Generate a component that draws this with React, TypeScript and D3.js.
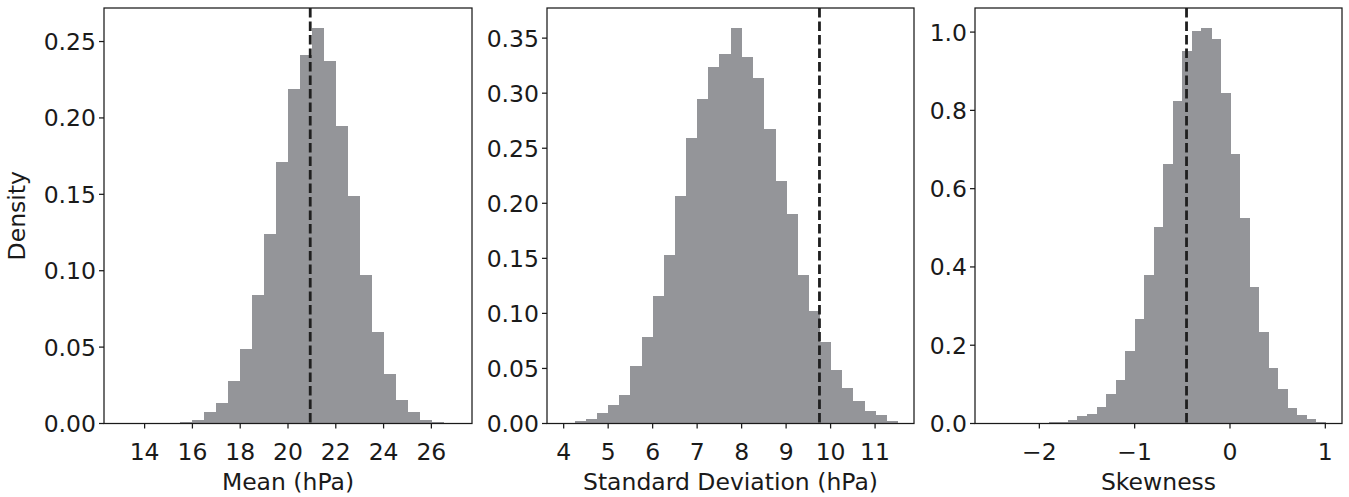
import React from "react";
import * as d3 from "d3";

// ---- Data ----
const meanBinStart = 13;
const meanBinWidth = 0.5;
const meanDensity = [0.0001, 0.0001, 0.0002, 0.0003, 0.0005, 0.001, 0.002, 0.0074, 0.0133, 0.028, 0.0487, 0.0841, 0.124, 0.171, 0.219, 0.241, 0.259, 0.237, 0.195, 0.149, 0.0972, 0.0598, 0.0323, 0.0153, 0.0074, 0.0022, 0.0009, 0.0002];
const meanRef = 20.93;
const meanXTicks = [14, 16, 18, 20, 22, 24, 26];
const meanYTicks = [0, 0.05, 0.1, 0.15, 0.2, 0.25];

const sdBinStart = 4.0;
const sdBinWidth = 0.25;
const sdDensity = [0.0003, 0.002, 0.0039, 0.0094, 0.0167, 0.0258, 0.0521, 0.0785, 0.1158, 0.153, 0.2067, 0.2597, 0.2948, 0.3239, 0.3358, 0.3594, 0.333, 0.3139, 0.2676, 0.2203, 0.1903, 0.1348, 0.1021, 0.0739, 0.0485, 0.0321, 0.0203, 0.0112, 0.0075, 0.0021];
const sdRef = 9.75;
const sdXTicks = [4, 5, 6, 7, 8, 9, 10, 11];
const sdYTicks = [0, 0.05, 0.1, 0.15, 0.2, 0.25, 0.3, 0.35];

const skBinStart = -2.5;
const skBinWidth = 0.1;
const skDensity = [0.0003, 0.0003, 0.0005, 0.0008, 0.001, 0.0015, 0.003, 0.003, 0.0102, 0.0187, 0.0238, 0.0417, 0.0749, 0.1107, 0.1849, 0.2667, 0.3793, 0.502, 0.663, 0.824, 0.952, 1.003, 1.011, 0.983, 0.845, 0.689, 0.525, 0.349, 0.2335, 0.1414, 0.0877, 0.0391, 0.0212, 0.011, 0.005];
const skRef = -0.456;
const skXTicks = [-2, -1, 0, 1];
const skYTicks = [0, 0.2, 0.4, 0.6, 0.8, 1.0];

const FONT = "DejaVu Sans, sans-serif";
const FS = 23.5;
const BAR = "#949599";
const AX = "#1a1a1a";

type PanelProps = {
  left: number; right: number; top: number; bottom: number;
  binStart: number; binWidth: number; density: number[]; ref0: number;
  xTicks: number[]; yTicks: number[]; yFmt: (v: number) => string;
  xLabel: string; yLabel?: string;
};

function Panel(p: PanelProps) {
  const n = p.density.length;
  const lo = p.binStart;
  const hi = p.binStart + n * p.binWidth;
  const pad = (hi - lo) * 0.05;
  const x = d3.scaleLinear().domain([lo - pad, hi + pad]).range([p.left, p.right]);
  const ymax = (d3.max(p.density) as number) * 1.05;
  const y = d3.scaleLinear().domain([0, ymax]).range([p.bottom, p.top]);
  const bins = p.density.map((v, i) => ({ x0: lo + i * p.binWidth, x1: lo + (i + 1) * p.binWidth, v }));
  const xFmt = (v: number) => (v < 0 ? "\u2212" + Math.abs(v) : String(v));
  return (
    <g>
      <g shapeRendering="crispEdges">
        {bins.map((b, i) => (
          <rect key={i} x={x(b.x0)} width={Math.max(0, x(b.x1) - x(b.x0)) + 0.6} y={y(b.v)} height={p.bottom - y(b.v)} fill={BAR} />
        ))}
      </g>
      <line x1={x(p.ref0)} x2={x(p.ref0)} y1={p.top} y2={p.bottom} stroke="#1f1f1f" strokeWidth={2.8} strokeDasharray="9.5,4" />
      <rect x={p.left} y={p.top} width={p.right - p.left} height={p.bottom - p.top} fill="none" stroke={AX} strokeWidth={1.25} />
      {p.xTicks.map((t) => (
        <g key={"x" + t}>
          <line x1={x(t)} x2={x(t)} y1={p.bottom} y2={p.bottom + 5} stroke={AX} strokeWidth={1.25} />
          <text x={x(t)} y={p.bottom + 36} textAnchor="middle" fontFamily={FONT} fontSize={FS} fill="#1a1a1a">{xFmt(t)}</text>
        </g>
      ))}
      {p.yTicks.map((t) => (
        <g key={"y" + t}>
          <line x1={p.left - 5} x2={p.left} y1={y(t)} y2={y(t)} stroke={AX} strokeWidth={1.25} />
          <text x={p.left - 8} y={y(t)} dy="0.36em" textAnchor="end" fontFamily={FONT} fontSize={FS} fill="#1a1a1a">{p.yFmt(t)}</text>
        </g>
      ))}
      <text x={(p.left + p.right) / 2} y={p.bottom + 66} textAnchor="middle" fontFamily={FONT} fontSize={FS} fill="#1a1a1a">{p.xLabel}</text>
      {p.yLabel && (
        <text transform={`translate(${p.left - 79},${(p.top + p.bottom) / 2}) rotate(-90)`} textAnchor="middle" fontFamily={FONT} fontSize={FS} fill="#1a1a1a">{p.yLabel}</text>
      )}
    </g>
  );
}

export default function App() {
  const top = 8, bottom = 423.5;
  return (
    <svg width={1349} height={497} style={{ position: "absolute", left: 0, top: 0, background: "#fff" }}>
      <Panel left={104} right={472} top={top} bottom={bottom} binStart={meanBinStart} binWidth={meanBinWidth} density={meanDensity} ref0={meanRef}
        xTicks={meanXTicks} yTicks={meanYTicks} yFmt={d3.format(".2f")} xLabel="Mean (hPa)" yLabel="Density" />
      <Panel left={547} right={914} top={top} bottom={bottom} binStart={sdBinStart} binWidth={sdBinWidth} density={sdDensity} ref0={sdRef}
        xTicks={sdXTicks} yTicks={sdYTicks} yFmt={d3.format(".2f")} xLabel="Standard Deviation (hPa)" />
      <Panel left={975} right={1342} top={top} bottom={bottom} binStart={skBinStart} binWidth={skBinWidth} density={skDensity} ref0={skRef}
        xTicks={skXTicks} yTicks={skYTicks} yFmt={d3.format(".1f")} xLabel="Skewness" />
    </svg>
  );
}
